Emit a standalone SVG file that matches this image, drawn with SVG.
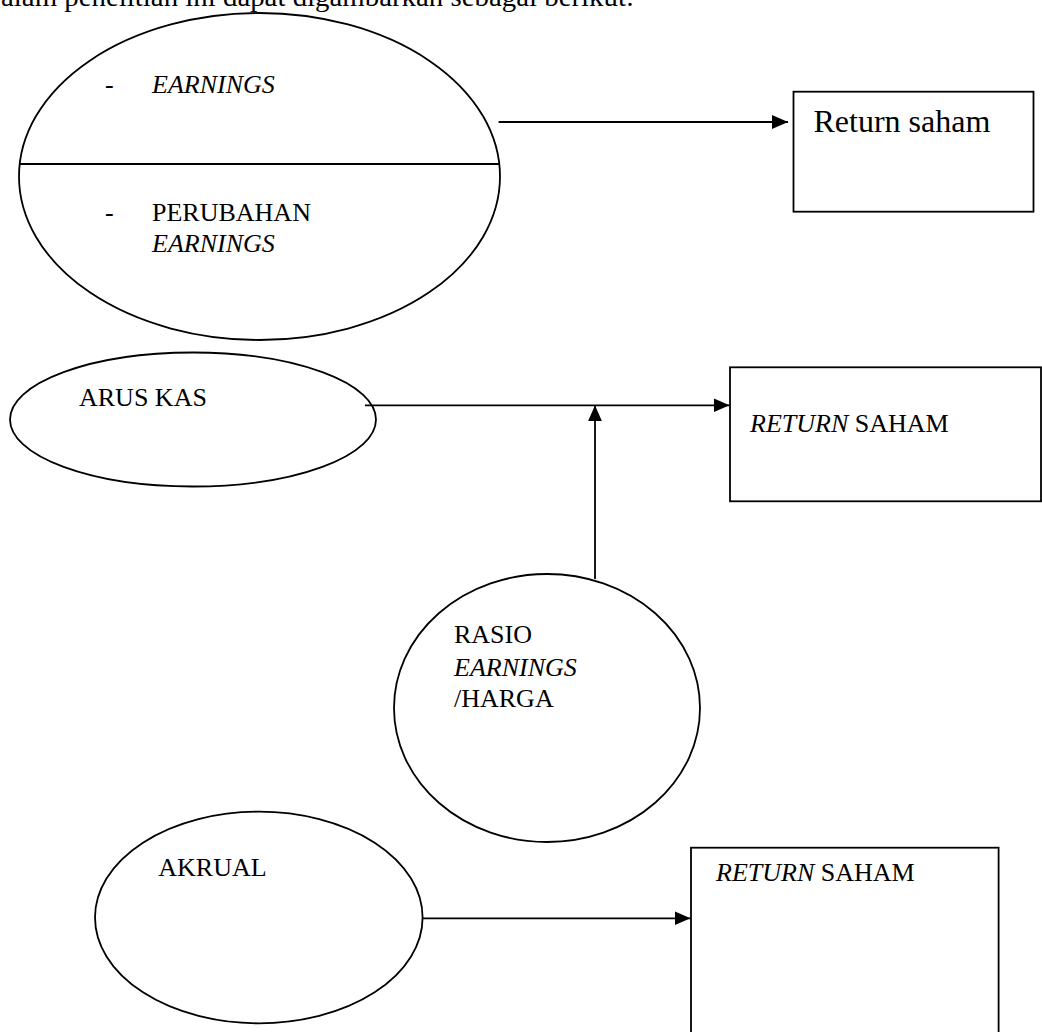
<svg xmlns="http://www.w3.org/2000/svg" width="1042" height="1032" viewBox="0 0 1042 1032">
<style>
.s{fill:none;stroke:#000;stroke-width:1.8}
.w{fill:#fff;stroke:#000;stroke-width:1.8}
.t{font-family:"Liberation Serif","Times New Roman",serif;font-size:26px;fill:#000}
.i{font-style:italic}
</style>
<defs>
<marker id="ah" markerUnits="userSpaceOnUse" markerWidth="17" markerHeight="15" refX="16" refY="7" orient="auto">
<path d="M0,0 L16,7 L0,14 z" fill="#000"/>
</marker>
</defs>
<rect width="1042" height="1032" fill="#fff"/>
<text class="t" x="1" y="6" style="font-size:28px" textLength="633" lengthAdjust="spacingAndGlyphs">alam penelitian ini dapat digambarkan sebagai berikut:</text>

<g id="node-earnings">
<ellipse class="w" cx="259.5" cy="176.5" rx="240.5" ry="163.5"/>
<line class="s" x1="19.5" y1="164" x2="499.5" y2="164"/>
<text class="t" x="105" y="93">-</text>
<text class="t i" x="152" y="93">EARNINGS</text>
<text class="t" x="105" y="221">-</text>
<text class="t" x="152" y="221">PERUBAHAN</text>
<text class="t i" x="152" y="252">EARNINGS</text>
</g>

<g id="node-return1">
<rect class="w" x="793.5" y="91.7" width="240" height="120"/>
<text class="t" x="813.5" y="131.7" style="font-size:32px">Return saham</text>
</g>

<g id="node-aruskas">
<ellipse class="w" cx="193" cy="419.5" rx="183" ry="67"/>
<text class="t" x="79" y="405.7">ARUS KAS</text>
</g>

<g id="node-return2">
<rect class="w" x="730" y="367.3" width="311" height="134"/>
<text class="t" x="750" y="432.3"><tspan class="i">RETURN</tspan> SAHAM</text>
</g>

<g id="node-rasio">
<ellipse class="w" cx="547" cy="708" rx="153" ry="134"/>
<text class="t" x="454" y="643.3">RASIO</text>
<text class="t i" x="454" y="675.7">EARNINGS</text>
<text class="t" x="454" y="706.7">/HARGA</text>
</g>

<g id="node-akrual">
<ellipse class="w" cx="258.8" cy="917.5" rx="163.8" ry="105.8"/>
<text class="t" x="158.3" y="875.7">AKRUAL</text>
</g>

<g id="node-return3">
<rect class="w" x="691" y="847.7" width="307.6" height="200"/>
<text class="t" x="716" y="880.7"><tspan class="i">RETURN</tspan> SAHAM</text>
</g>

<g id="connectors">
<line class="s" x1="498.6" y1="122" x2="788" y2="122" marker-end="url(#ah)"/>
<line class="s" x1="365" y1="405.3" x2="729.5" y2="405.3" marker-end="url(#ah)"/>
<line class="s" x1="595" y1="579" x2="595" y2="405.3" marker-end="url(#ah)"/>
<line class="s" x1="422.6" y1="918.3" x2="690.5" y2="918.3" marker-end="url(#ah)"/>
</g>
</svg>
